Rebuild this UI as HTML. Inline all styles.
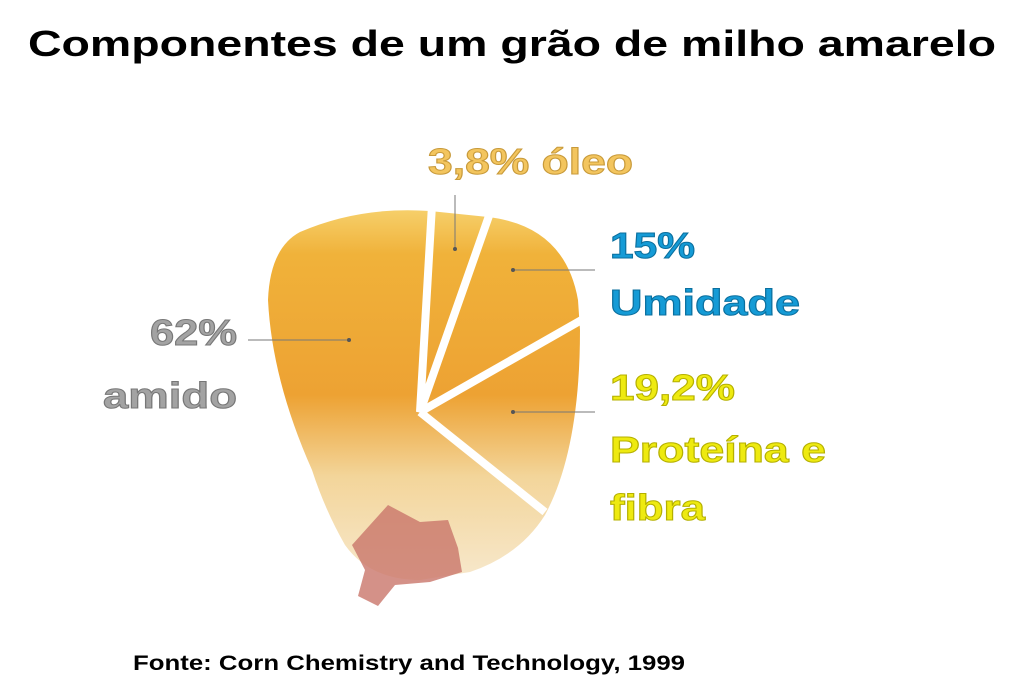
<!DOCTYPE html><html><head><style>body{margin:0;background:#fff}svg{display:block}</style></head><body>
<svg width="1024" height="693" viewBox="0 0 1024 693" font-family="'Liberation Sans','DejaVu Sans',sans-serif" font-weight="bold">
<defs>
<linearGradient id="g" x1="0" y1="0" x2="0" y2="1">
<stop offset="0" stop-color="#f6cf6a"/><stop offset="0.12" stop-color="#f0b23a"/><stop offset="0.5" stop-color="#eda233"/><stop offset="0.72" stop-color="#f3d59a"/><stop offset="1" stop-color="#f7e8cc"/></linearGradient>
</defs>
<text x="28" y="56" font-size="36" textLength="968" lengthAdjust="spacingAndGlyphs" fill="#000">Componentes de um grão de milho amarelo</text>
<path d="M300 232 Q360 206 430 211 L488 217 Q565 226 578 300 L580 330 Q580 450 545 515 Q520 555 470 572 L420 580 Q370 580 345 545 Q325 510 312 470 Q272 380 268 300 Q270 248 300 232Z" fill="url(#g)"/>
<path d="M352 545 L388 505 L420 522 L448 520 L458 548 L462 572 L430 582 L395 585 L378 606 L358 596 L365 570Z" fill="#c9766a" opacity="0.8"/>
<g stroke="#fff" stroke-width="8" fill="none">
<path d="M432 205 L420 412 L490 213"/><path d="M420 412 L585 318"/><path d="M420 412 L545 512"/></g>
<g stroke="#777" stroke-width="1"><line x1="455" y1="195" x2="455" y2="248"/><line x1="513" y1="270" x2="595" y2="270"/><line x1="248" y1="340" x2="349" y2="340"/><line x1="513" y1="412" x2="595" y2="412"/></g>
<g fill="#555"><circle cx="455" cy="249" r="2"/><circle cx="513" cy="270" r="2"/><circle cx="349" cy="340" r="2"/><circle cx="513" cy="412" r="2"/></g>
<g font-size="36" stroke-width="1" lengthAdjust="spacingAndGlyphs">
<text x="428" y="174" textLength="205" lengthAdjust="spacingAndGlyphs" fill="#f3c55e" stroke="#c89a3a">3,8% óleo</text>
<text x="610" y="258" textLength="85" lengthAdjust="spacingAndGlyphs" fill="#159bd6" stroke="#0b6f9e">15%</text>
<text x="610" y="315" textLength="190" lengthAdjust="spacingAndGlyphs" fill="#159bd6" stroke="#0b6f9e">Umidade</text>
<text x="150" y="345" textLength="87" lengthAdjust="spacingAndGlyphs" fill="#a3a3a3" stroke="#777">62%</text>
<text x="103" y="408" textLength="134" lengthAdjust="spacingAndGlyphs" fill="#a3a3a3" stroke="#777">amido</text>
<text x="610" y="400" textLength="125" lengthAdjust="spacingAndGlyphs" fill="#eeea10" stroke="#b5b000">19,2%</text>
<text x="610" y="462" textLength="216" lengthAdjust="spacingAndGlyphs" fill="#eeea10" stroke="#b5b000">Proteína e</text>
<text x="610" y="520" textLength="95" lengthAdjust="spacingAndGlyphs" fill="#eeea10" stroke="#b5b000">fibra</text>
</g>
<text x="133" y="670" font-size="21" textLength="552" lengthAdjust="spacingAndGlyphs" fill="#000">Fonte: Corn Chemistry and Technology, 1999</text>
</svg></body></html>
